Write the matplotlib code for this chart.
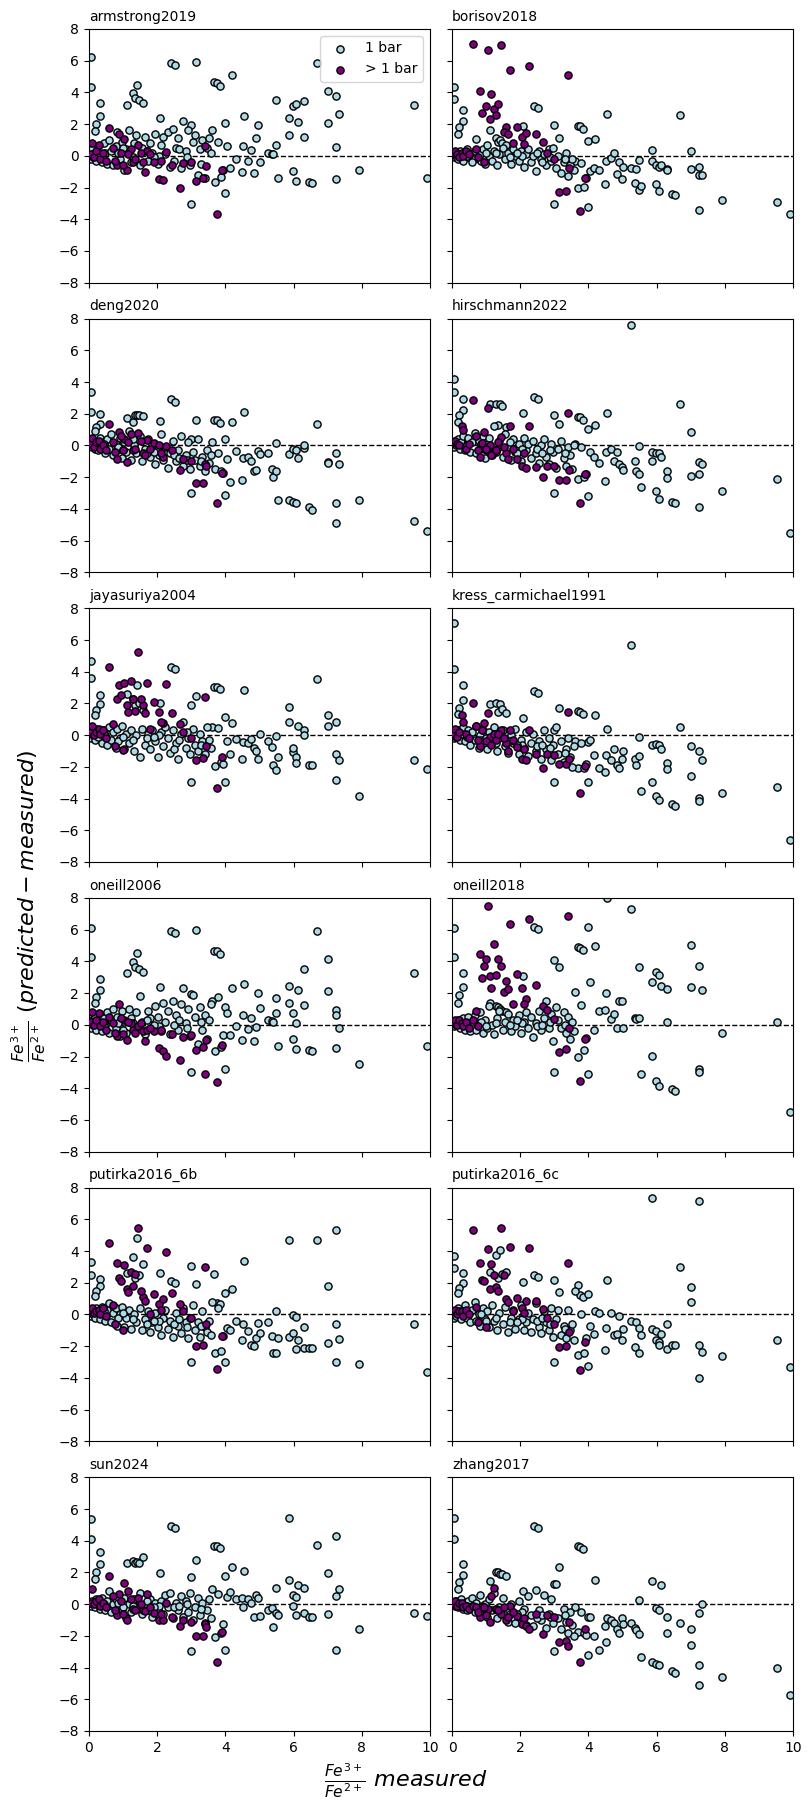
import matplotlib
matplotlib.use('Agg')
import matplotlib.pyplot as plt

models = ['armstrong2019', 'borisov2018', 'deng2020', 'hirschmann2022',
          'jayasuriya2004', 'kress_carmichael1991', 'oneill2006', 'oneill2018',
          'putirka2016_6b', 'putirka2016_6c', 'sun2024', 'zhang2017']

# measured Fe3+/Fe2+ of the 1 bar experiments (same samples for every model)
x_1bar = [0.06, 0.06, 0.32, 0.32, 0.2, 0.18,
          1.12, 1.30, 1.35, 1.42, 1.47, 1.59, 2.09, 2.40, 2.52, 2.99, 2.99, 3.15,
          3.68, 3.76, 3.84, 3.99, 3.99, 4.19, 4.55,
          3.62, 3.7, 3.78, 3.88, 3.93, 4.05, 4.15, 4.3, 4.49, 4.51, 4.66, 4.75, 4.85, 4.9, 4.97, 5.02,
          5.24, 5.37, 5.40, 5.49, 5.49, 5.55, 5.87, 5.87, 5.99, 5.99, 6.08, 6.08, 6.14, 6.31, 6.31,
          6.45, 6.53, 6.70, 7.02, 7.02, 7.25, 7.25, 7.25, 7.34, 7.93, 9.54, 9.92,
          0.03, 0.07, 0.1, 0.13, 0.17, 0.22, 0.26, 0.31, 0.37, 0.43,
          0.47, 0.54, 0.59, 0.66, 0.71, 0.78, 0.83, 0.9, 0.96, 1.03,
          1.08, 1.17, 1.24, 1.33, 1.39, 1.5, 1.56, 1.64, 1.73, 1.79,
          1.86, 1.95, 2.02, 2.11, 2.16, 2.24, 2.31, 2.37, 2.46, 2.55,
          2.61, 2.7, 2.76, 2.84, 2.9, 2.97, 3.04, 3.12, 3.2, 3.27,
          3.33, 3.39, 3.46, 3.53, 3.58,
          0.45, 0.86, 1.28, 1.69, 2.06, 2.48, 2.88, 3.3, 1.0, 1.9, 2.65]

# measured Fe3+/Fe2+ of the high pressure (> 1 bar) experiments
x_hp = [0.05, 0.1, 0.15, 0.2, 0.28, 0.33, 0.42, 0.5,
        0.6, 0.82, 0.88, 1.04, 1.12, 1.22, 1.3, 1.45, 1.58, 1.7, 1.9, 2.05, 2.18, 2.26,
        2.45, 2.68, 2.77, 2.99, 3.15, 3.35, 3.41, 3.43, 3.76, 3.91,
        0.7, 0.75, 0.95, 1.0, 1.15, 1.35, 1.52, 1.65, 1.8, 2.1]

# predicted - measured, 1 bar
armstrong2019_1bar = [6.25, 4.36, 3.33, 2.53, 2.0, 1.56,
    3.22, 3.94, 3.62, 4.46, 3.54, 3.33, 2.36, 5.85, 5.73, -3.05, 1.96, 5.94,
    4.63, 4.59, 4.42, 2.08, -2.34, 5.1, 2.5,
    1.62, -1.68, 0.88, -1.33, -0.88, 0.63, -0.78, -0.21, -1.0, 0.59, -0.34, 0.36, -1.07, 1.1, 1.96, -0.38,
    0.2, 0.13, 0.1, 3.54, 0.69, -1.4, 2.4, 1.3, 3.16, -0.95, 3.26, -1.6, 2.13, 3.45, 1.2,
    -1.67, -1.7, 5.87, 4.08, 2.06, 3.77, 0.55, -1.45, 2.63, -0.88, 3.22, -1.4,
    0.1, -0.2, 0.4, -0.1, 0.2, -0.3, 0.6, 0.0, -0.4, 0.8,
    0.2, -0.5, 1.0, 0.3, -0.6, 0.6, 1.5, -0.2, 0.9, -0.9,
    0.4, 1.6, -0.4, 0.8, 1.3, -0.6, 0.5, 1.2, -0.3, 0.8,
    0.2, 1.4, -0.5, 0.7, 1.2, 0.1, 1.5, -0.7, 1.7, 0.5,
    1.1, -0.8, 2.2, 0.3, 1.6, -0.6, 0.9, 1.3, -1.2, 0.4,
    1.0, -1.4, 0.5, 1.1, 0.2,
    -0.2, 0.2, -0.1, 0.3, 0.0, -0.3, -0.1, -0.5, 0.5, -0.1, 0.4]

borisov2018_1bar = [4.34, 3.58, 2.9, 2.19, 1.83, 1.37,
    1.6, 1.1, 0.9, 1.0, 0.8, 0.7, 1.85, 3.16, 3.03, -3.03, 1.96, 1.14,
    1.9, 1.85, 1.68, 0.95, -3.24, 1.05, 2.63,
    -0.3, -2.06, -0.48, -1.96, -1.37, -0.95, -0.74, -0.88, -1.77, -0.3, -0.15, 0.15, -1.16, -0.4, -1.47, -0.7,
    -0.8, -1.7, -0.84, -0.25, -2.15, -1.92, 0.36, -0.32, -1.77, -0.57, -0.7, -2.2, -0.59, -0.84, -0.9,
    -2.4, -2.48, 2.57, 0.29, -0.84, -0.7, -1.22, -3.4, -1.2, -2.8, -2.9, -3.7,
    0.1, -0.1, 0.2, 0.0, -0.2, 0.3, 0.0, -0.3, 0.2, 0.4,
    -0.1, 0.1, -0.4, 0.3, 1.05, -0.2, 0.1, 0.4, -0.5, 0.7,
    0.0, -0.3, 0.3, -0.6, 0.1, 0.5, -0.2, 0.2, -0.5, 0.4,
    0.0, -0.3, 0.3, -0.7, 0.1, 0.4, -0.4, 0.0, -0.97, 0.3,
    -0.2, 0.1, -0.6, 0.4, -0.3, 0.5, -0.8, 0.0, -1.1, -0.4,
    0.2, -1.3, -0.6, -0.2, -0.9,
    0.0, -0.3, 0.2, -0.1, 0.0, 0.2, -0.1, -0.2, 0.2, 0.2, -0.4]

deng2020_1bar = [3.35, 2.13, 1.96, 1.37, 1.14, 0.9,
    1.73, 1.47, 1.92, 1.94, 1.9, 1.85, 1.52, 2.93, 2.76, -2.97, 0.4, 1.62,
    1.62, 1.62, 1.43, 0.42, -3.12, 1.49, 2.1,
    0.25, -1.47, -0.48, -1.64, -1.73, -0.84, -2.3, -0.38, -2.15, -0.8, -0.74, -1.0, -1.64, -1.55, -0.38, -0.55,
    -0.46, -1.47, -2.0, 0.13, -1.64, -3.41, -0.53, -3.41, -0.21, -3.54, -0.27, -3.62, -0.78, -0.13, 0.05,
    -3.9, -4.04, 1.33, -1.07, -1.1, -0.5, -3.6, -4.9, -1.14, -3.41, -4.76, -5.4,
    0.0, 0.2, -0.1, 0.3, -0.2, 0.1, -0.3, 0.5, -0.1, 0.2,
    -0.5, 0.4, -0.2, 0.7, -0.6, 0.1, -0.3, 0.5, -0.8, 0.2,
    -0.4, 0.9, -0.9, 0.0, -0.5, 0.6, -1.0, -0.2, 0.4, -0.7,
    0.1, -1.2, -0.3, 0.7, -0.9, -0.1, -1.4, -0.5, 0.3, -1.0,
    -0.3, 0.6, -1.3, -0.6, 0.2, -1.5, -0.4, -0.9, 0.4, -1.3,
    -0.7, -1.6, -0.3, -1.1, -0.6,
    0.1, -0.1, 0.4, -0.5, -0.6, -0.6, -0.9, -1.0, -0.3, -0.4, -0.8]

hirschmann2022_1bar = [4.2, 3.39, 2.9, 2.25, 1.94, 1.47,
    2.6, 2.6, 1.3, 2.6, 2.48, 1.17, 2.06, 3.05, 2.93, -2.97, 1.9, 1.37,
    1.81, 1.77, 1.62, 1.05, -3.18, 1.26, 2.06,
    0.1, -2.1, -0.1, -2.0, -1.8, -0.42, -0.74, -1.1, -2.23, -0.42, -0.2, -0.99, -0.4, -1.16, -1.37, -1.54,
    7.6, -1.0, -1.64, -0.06, -1.83, -2.59, -0.42, -0.97, -0.46, -2.9, -0.46, -3.35, -0.7, -1.58, -2.08,
    -3.54, -3.6, 2.63, 0.82, -1.92, -1.05, -1.8, -3.9, -1.2, -2.86, -2.1, -5.5,
    0.1, -0.1, 0.3, 0.0, 0.4, -0.2, 0.2, 0.6, -0.3, 0.1,
    0.5, -0.4, 0.2, 0.8, -0.5, 0.3, -0.2, 0.6, -0.8, 0.1,
    0.5, -0.6, 1.2, -0.2, 0.3, -0.7, 0.7, -0.1, -0.9, 0.4,
    -0.4, 0.1, -1.0, 0.5, -0.3, 0.1, -0.8, 0.3, -0.5, -1.1,
    0.0, 0.4, -0.7, -1.2, 0.1, -0.4, -1.4, -0.2, 0.3, -0.8,
    -1.3, -0.1, -0.6, -1.5, 0.0,
    0.0, 0.1, -0.4, 0.2, -0.2, -0.2, -0.3, -0.5, -0.3, -0.5, -0.5]

jayasuriya2004_1bar = [4.67, 3.6, 2.53, 1.96, 1.56, 1.26,
    2.57, 2.3, 1.9, 3.16, 2.0, 1.6, 2.0, 4.3, 4.17, -2.97, 1.9, 2.48,
    3.05, 3.05, 2.88, 1.12, -2.97, 0.78, 2.84,
    0.5, -1.96, 0.48, -1.68, -1.85, -0.38, -1.18, -0.25, -1.5, -0.42, -0.5, -0.27, -0.84, -0.97, -1.52, 0.1,
    -0.4, -0.72, -1.9, -0.06, -2.2, -1.35, 1.77, 0.82, -1.05, -0.84, -1.35, -1.73, 0.57, 0.34, 0.0,
    -1.9, -1.9, 3.54, 1.24, 0.55, 0.8, -1.22, -2.8, -1.58, -3.85, -1.54, -2.15,
    0.1, -0.2, 0.3, 0.0, -0.3, 0.4, -0.1, 0.2, -0.5, 0.3,
    0.0, -0.6, 0.5, -0.3, 0.2, -0.8, 0.4, -0.2, 0.6, -0.9,
    0.1, -0.5, 0.3, -1.0, 0.0, -1.4, 0.4, -0.6, 0.1, -0.9,
    0.3, -0.4, -1.4, 0.2, -0.7, 0.5, -0.2, -1.1, 0.3, -0.5,
    -1.5, 0.1, 0.8, -0.8, -0.2, -1.2, 0.4, -0.6, -1.0, 0.1,
    -0.4, -1.2, 0.5, -0.3, -0.8,
    0.1, -0.4, -0.3, -0.2, 0.0, -0.9, 0.2, -0.6, -0.1, -0.1, -0.3]

kress_carmichael1991_1bar = [7.05, 4.17, 3.14, 2.23, 1.68, 1.35,
    1.96, 2.0, 1.47, 1.96, 1.62, 1.39, 1.07, 2.76, 2.63, -2.97, 0.3, 1.7,
    1.52, 1.47, 1.35, -0.42, -2.97, 1.26, 0.36,
    -0.4, -2.1, -0.48, -2.06, -1.85, -0.3, -1.26, -2.1, -2.3, -1.26, -1.58, -0.9, -1.9, -2.06, -1.52, -1.0,
    5.66, -1.52, -1.9, -0.13, -1.33, -3.54, -0.63, -2.97, -0.55, -3.85, -0.63, -4.1, -0.9, -1.73, -2.15,
    -4.36, -4.48, 0.5, -0.7, -2.6, -1.0, -3.94, -4.13, -1.58, -3.68, -3.3, -6.6,
    0.1, -0.2, 0.2, -0.1, 0.3, -0.3, 0.1, 0.5, -0.4, 0.0,
    0.3, -0.6, 0.2, -0.3, 0.6, -0.8, 0.0, 0.3, -0.5, -0.9,
    0.2, -0.4, 0.5, -1.0, -0.2, 0.3, -0.7, -1.1, 0.0, -0.5,
    0.4, -1.2, -0.3, -0.8, 0.2, -1.3, -0.5, 0.1, -1.0, -0.4,
    -1.5, 0.3, -0.9, -0.2, -1.6, -0.6, 0.5, -1.2, -0.4, -1.7,
    -0.9, -0.2, -1.4, -2.0, -0.7,
    -0.1, -0.3, -0.5, -0.4, -0.6, -0.7, -0.8, -1.1, -0.2, -0.6, -0.6]

oneill2006_1bar = [6.1, 4.27, 2.88, 2.19, 1.77, 1.37,
    3.26, 3.96, 3.64, 4.55, 3.54, 3.33, 2.38, 5.94, 5.79, -2.97, 1.96, 6.0,
    4.67, 4.63, 4.48, 1.14, -2.8, 2.32, 2.57,
    1.52, -1.64, 1.73, -1.37, -0.67, 0.74, -0.63, -0.1, -0.95, 0.59, -0.25, 0.42, -1.0, -0.13, 2.0, 1.05,
    0.3, 0.25, 0.17, 1.68, 0.74, -1.33, 2.46, 1.37, 0.74, -0.88, -1.52, 0.1, 2.19, 3.54, 1.24,
    -1.58, -1.64, 5.94, 4.15, 2.13, 0.94, 0.6, -1.45, -0.21, -2.48, 3.26, -1.33,
    0.1, -0.2, 0.3, 0.0, 0.5, -0.3, 0.2, 0.7, -0.4, 0.4,
    0.0, 0.8, -0.5, 0.3, 1.0, -0.2, 0.5, -0.7, 0.9, 0.2,
    -0.5, 1.0, 0.4, -0.3, 0.8, 1.8, 0.2, -0.6, 0.9, 0.4,
    -0.2, 1.2, 0.5, -0.4, 1.4, 0.2, 0.9, -0.6, 1.5, 0.6,
    -0.3, 1.3, 2.3, 0.1, 1.0, -0.7, 1.9, 0.5, -1.2, 1.1,
    -0.3, 0.6, -0.9, 0.3, 1.3,
    -0.1, 0.1, 0.1, 0.3, -0.1, 0.0, -0.2, 0.2, -0.3, 0.0, 0.3]

oneill2018_1bar = [6.1, 4.27, 3.26, 2.4, 1.85, 1.37,
    1.4, 1.2, 1.1, 1.0, 0.9, 0.8, 3.1, 6.19, 6.06, -2.97, 4.1, 3.66,
    4.9, 4.84, 4.74, 6.19, -3.12, 4.99, 7.98,
    2.1, -2.0, 1.22, -1.58, -0.84, 2.69, -0.3, 0.88, 0.95, 2.0, 0.38, 0.67, -0.2, 1.47, 1.5, -0.2,
    7.33, 0.44, 0.38, 3.66, 0.44, -3.12, 2.69, -1.98, 3.3, -3.54, 3.16, -3.85, 2.46, 2.25, 0.17,
    -4.08, -4.17, 9.0, 5.03, 2.38, 3.7, -2.8, -2.97, 2.19, -0.53, 0.17, -5.5,
    0.1, -0.1, 0.2, 0.0, 0.3, -0.2, 0.1, 0.4, -0.3, 0.1,
    0.5, -0.4, 0.2, 0.6, -0.3, 0.1, 0.8, -0.5, 0.3, -0.2,
    1.2, 0.0, -0.6, 0.4, 0.9, -0.3, 0.2, 0.7, -0.4, 0.3,
    -0.1, 0.6, -0.5, 0.2, 0.8, -0.2, 0.5, -0.8, 0.1, 0.9,
    -0.3, 0.4, 1.5, -0.2, 0.7, -1.0, 1.1, 0.3, -0.2, 0.8,
    -0.5, 0.5, -0.9, 0.2, -0.4,
    0.0, 0.2, 0.1, 0.0, 0.1, -0.1, 0.2, 0.0, -0.1, 0.3, 0.0]

putirka2016_6b_1bar = [3.33, 2.5, 2.25, 1.77, 1.47, 1.16,
    2.63, 3.62, 2.3, 4.8, 2.5, 3.2, 2.59, 2.1, 1.96, -2.97, 3.05, 1.94,
    2.57, 0.74, 0.63, 1.37, -2.97, 1.62, 3.39,
    0.8, -2.42, 0.42, -2.3, -1.37, -0.88, -0.95, -0.42, -1.64, -0.59, -1.05, -1.9, -2.0, -1.47, -0.55, -1.2,
    -0.5, -1.33, -2.42, 0.19, -2.4, -1.47, 4.67, -1.41, -0.05, -1.2, -0.13, -2.15, -1.64, -0.78, -2.1,
    -2.1, -2.1, 4.67, 1.81, -1.77, 5.35, -0.63, -2.97, -1.52, -3.12, -0.59, -3.6,
    0.1, -0.1, 0.3, 0.0, -0.2, 0.4, 0.1, -0.3, 0.5, 0.0,
    -0.4, 0.3, 0.7, -0.5, 0.1, 0.4, -0.7, 0.0, 0.5, -0.8,
    -0.2, 0.3, -0.9, 0.0, -0.5, 0.4, -1.0, -0.3, 0.2, -1.1,
    -0.5, 0.1, -0.8, -1.3, -0.2, 0.3, -0.9, -0.4, -1.4, 0.1,
    -0.7, -1.2, 0.4, -0.5, -1.5, -0.2, 0.6, -1.0, -0.5, -1.4,
    0.2, -0.8, -1.1, -0.4, -1.3,
    0.2, -0.2, -0.3, -0.6, -0.4, -0.6, -0.8, -0.7, 0.1, -0.4, -0.3]

putirka2016_6c_1bar = [3.66, 2.95, 2.59, 2.0, 1.66, 1.33,
    2.69, 3.73, 2.3, 4.04, 2.55, 2.69, 2.06, 2.48, 2.34, -2.97, 2.19, 1.43,
    1.85, 1.2, 1.1, 1.26, -3.26, 0.23, 2.19,
    1.47, -2.53, 0.0, -2.45, -1.47, -0.7, -1.26, 0.1, -2.27, -0.88, 0.1, -1.3, -1.26, -0.1, -1.64, -0.93,
    -0.4, -2.08, -0.5, -0.84, -2.46, -1.28, 7.33, -0.93, -1.05, -1.58, -1.73, -1.92, -1.22, -0.59, -2.2,
    -1.95, -1.9, 2.97, 1.75, 0.76, 7.14, -1.95, -4.0, -2.34, -2.65, -1.64, -3.3,
    0.1, -0.2, 0.2, -0.1, 0.4, 0.0, -0.3, 0.3, 0.6, -0.2,
    0.1, -0.5, 0.3, 0.8, -0.4, 0.0, -0.7, 0.4, -0.3, 0.2,
    -0.8, 0.6, -0.4, -1.0, 0.1, -0.6, 0.5, -1.1, -0.2, 0.3,
    -0.9, -0.3, 0.6, -1.0, -0.5, 0.1, -1.1, -0.3, 0.7, -0.8,
    -1.2, 0.2, -0.5, -1.0, 0.4, -1.4, -0.3, 0.3, -1.3, -0.7,
    -1.5, 0.3, -1.0, -0.6, -1.6,
    0.1, 0.0, -0.2, -0.5, -0.3, -0.4, -0.6, -0.9, -0.4, -0.5, -0.2]

sun2024_1bar = [5.37, 4.08, 3.26, 2.53, 2.0, 1.56,
    2.6, 2.7, 2.6, 2.66, 2.6, 2.97, 1.96, 4.93, 4.78, -2.97, 1.7, 2.76,
    3.66, 3.66, 3.54, 1.77, -2.9, 2.32, 2.06,
    0.95, -2.1, 0.67, -1.85, -1.26, 0.42, 0.74, 0.3, 0.36, -0.2, 0.3, 0.05, -0.84, 0.59, 0.36, -0.74,
    -0.4, -0.23, -1.47, 1.01, -0.59, -0.7, 5.43, 1.52, 0.57, -0.1, 0.44, -0.7, 1.2, 1.03, -0.59,
    -0.84, -0.84, 3.7, 1.96, -0.63, 4.27, 0.5, -2.9, 0.95, -1.58, -0.53, -0.78,
    0.1, -0.1, 0.2, 0.0, -0.2, 0.3, 0.0, -0.3, 0.4, 0.1,
    -0.4, 0.2, 0.8, -0.5, 0.0, 0.3, -0.6, 0.1, -0.3, 0.4,
    -0.9, 0.0, -0.5, 0.3, -0.2, 0.7, -0.6, 0.0, -0.4, 0.3,
    -0.8, 0.1, -0.3, 0.2, -0.6, 0.6, -0.2, 0.7, -0.9, 0.1,
    -0.4, 0.5, -0.8, 0.2, -0.5, 0.7, -1.0, -0.2, 0.4, -0.7,
    0.1, -1.2, -0.4, 0.3, -0.9,
    0.0, 0.1, -0.1, 0.2, -0.1, -0.2, 0.0, -0.3, -0.2, -0.2, -0.1]

zhang2017_1bar = [5.41, 4.08, 2.53, 1.81, 1.37, 0.97,
    1.47, 2.0, 2.0, 1.9, 1.9, 1.77, 0.8, 4.95, 4.8, -2.97, 1.3, 2.32,
    3.66, 3.62, 3.47, -0.8, -3.18, 1.52, -0.88,
    -0.2, -1.75, -0.48, -1.8, -1.92, -0.8, -2.0, -2.9, -1.37, -2.4, -0.97, -1.16, -1.58, -1.8, -0.88, -1.26,
    -1.2, -1.52, -1.64, 0.25, -1.9, -3.35, 1.43, -3.64, -0.23, -3.79, -0.34, -3.85, 1.22, -0.84, -1.83,
    -4.23, -4.32, -1.2, -1.54, -2.55, -0.59, -3.81, -5.07, 0.0, -4.57, -4.04, -5.75,
    0.0, 0.1, -0.1, 0.2, -0.2, 0.0, 0.3, -0.3, 0.1, -0.4,
    0.2, -0.2, 0.4, -0.5, 0.1, -0.3, 0.6, -0.6, 0.0, -0.8,
    0.3, -0.4, 0.7, -0.9, -0.2, 0.4, -0.7, -1.1, 0.0, -0.5,
    -1.2, 0.2, -0.8, -0.3, -1.3, 0.5, -0.7, -1.4, 0.9, -0.4,
    -1.0, 0.6, -1.5, -0.6, 0.3, -1.2, 1.3, -0.9, -1.6, -0.3,
    -1.1, -1.8, -0.5, -1.3, -2.0,
    -0.1, -0.2, -0.3, -0.6, -0.5, -0.9, -0.8, -0.7, -0.4, -0.6, -0.7]

# predicted - measured, > 1 bar
armstrong2019_hp = [0.1, 0.8, -0.1, 0.3, 0.7, -0.2, 0.2, -0.3,
    1.77, -0.59, 1.37, 1.05, -0.88, 0.4, -0.4, 0.69, -0.4, 0.3, -0.4, -1.45, -1.5, 0.23,
    -0.55, -2.04, -0.46, -0.4, -1.56, -1.41, 0.63, -0.63, -3.68, -0.88,
    0.5, -0.3, 0.2, -0.6, 0.1, -0.2, 0.2, -1.0, 0.1, -0.3]
borisov2018_hp = [0.2, 0.3, 0.1, -0.1, 0.2, 0.0, 0.3, 0.1,
    7.05, 4.1, 2.67, 6.7, 2.3, 2.95, 2.6, 7.0, 1.79, 5.41, 1.83, 1.2, 1.45, 5.66,
    1.37, 0.9, 0.2, -0.2, -2.27, -2.2, 5.1, -0.74, -3.5, -1.41,
    0.4, -0.1, -0.42, 3.14, 3.9, 3.26, 1.5, 1.37, 0.8, 0.75]
deng2020_hp = [0.1, 0.5, -0.1, 0.2, 0.3, -0.2, 0.0, -0.3,
    1.33, -0.84, 0.85, 0.4, -1.05, 0.7, -0.3, 0.8, -0.5, 0.35, 0.15, 0.0, -0.74, -0.05,
    -0.3, -1.52, -0.88, -1.0, -2.34, -2.34, -1.14, -1.3, -3.62, -1.73,
    0.2, -0.4, 0.6, -0.3, 0.2, -0.2, 0.3, -0.6, -0.2, -0.45]
hirschmann2022_hp = [0.2, 0.3, 0.1, 0.0, 1.2, 0.95, -0.2, 0.1,
    2.84, -0.7, 0.15, 2.38, 0.0, -0.4, -0.3, 0.53, -0.5, 1.2, -0.88, -1.3, -1.45, 1.2,
    -1.37, -1.96, -1.3, -1.3, -2.2, -2.15, 2.02, -1.52, -3.62, -1.77,
    0.6, -0.3, 0.84, -0.2, -0.6, 0.2, -0.1, -0.88, -0.2, -0.5]
jayasuriya2004_hp = [0.2, 0.6, 0.0, 0.2, 0.4, 0.1, 0.3, -0.2,
    4.3, 2.3, 3.16, 3.28, 1.9, 3.4, 2.3, 5.24, 1.9, 3.26, 2.1, 1.47, 0.75, 3.22,
    1.37, 0.7, 0.2, -0.2, -1.58, -1.47, 2.4, -0.7, -3.35, -1.37,
    0.7, -0.7, 2.5, -0.95, 1.43, 1.5, 2.3, 1.37, 0.4, 0.8]
kress_carmichael1991_hp = [0.1, 0.4, -0.1, 0.2, 1.26, 0.84, 0.1, -0.2,
    2.02, -0.7, 0.3, 1.37, -0.1, 0.1, -0.3, 0.32, -0.5, 0.32, -0.74, -1.52, -1.58, 0.32,
    -1.16, -2.08, -1.16, -1.26, -1.83, -1.83, 1.49, -1.52, -3.62, -1.92,
    0.6, -0.3, 0.74, -0.4, -0.6, 0.1, -0.2, -1.0, -0.3, -0.9]
oneill2006_hp = [0.2, 0.8, 0.0, 0.3, 0.75, -0.1, 0.2, -0.3,
    0.5, -0.7, 1.33, 0.3, -0.95, 0.1, -0.3, -0.1, -0.4, -0.3, -0.4, -1.45, -1.68, -1.98,
    -0.55, -2.2, -0.8, -0.67, -1.58, -1.41, -3.12, -0.97, -3.62, -1.26,
    0.1, -0.5, 0.4, -0.6, 0.2, -0.5, 0.1, -1.0, -0.2, -0.3]
oneill2018_hp = [0.2, 0.3, 0.0, 0.3, 0.1, -0.1, 0.2, -0.2,
    0.3, 4.46, 2.95, 7.5, 3.05, 5.1, 3.16, 3.7, 2.74, 6.36, 3.2, 2.32, 1.62, 6.69,
    2.53, 1.2, 0.95, 0.35, -1.73, -1.52, 6.86, -0.2, -3.54, -0.88,
    0.9, -0.1, 3.68, 4.15, 2.3, 4.17, 2.06, 2.24, 1.3, 1.3]
putirka2016_6b_hp = [0.3, 0.4, 0.1, 0.2, 0.3, 0.0, 0.4, -0.1,
    4.53, 3.26, 2.3, 3.1, 1.62, 2.69, 1.8, 5.47, 1.1, 4.17, 1.26, 0.63, 0.99, 3.96,
    1.37, 0.67, 0.25, -0.2, -2.02, -1.92, 2.97, -0.63, -3.41, -1.33,
    0.6, -0.63, 2.1, -0.95, 1.43, 2.53, 1.5, 0.84, 0.0, 0.3]
putirka2016_6c_hp = [0.2, 0.3, 0.0, 0.2, 0.2, -0.1, 0.3, 0.0,
    5.3, 3.26, 2.18, 4.1, 1.62, 2.48, 1.75, 5.47, 1.0, 4.27, 1.05, 0.42, 0.84, 4.17,
    0.84, 0.32, -0.2, -0.6, -2.08, -2.02, 3.22, -1.1, -3.5, -1.73,
    0.5, -0.48, 2.1, -0.8, 3.16, 1.5, 2.48, 0.78, 0.2, 0.1]
sun2024_hp = [0.1, 0.95, 0.0, 0.2, 0.3, -0.1, 0.1, -0.2,
    1.77, -0.7, 0.67, 1.33, -1.0, 0.3, -0.3, 0.38, -0.4, 0.63, -0.53, -0.97, -0.97, 0.1,
    -0.84, -1.41, -1.0, -1.1, -2.04, -1.98, -1.26, -1.45, -3.62, -1.73,
    0.5, -0.4, 0.2, -0.6, 0.84, -0.4, 0.0, -0.42, -0.2, -0.6]
zhang2017_hp = [0.0, 0.2, -0.1, 0.1, 0.1, -0.2, -0.1, -0.3,
    -0.1, -0.84, -0.1, -0.3, -1.1, 0.99, -0.3, -0.6, -0.97, -0.1, -0.74, -1.24, -1.35, -1.58,
    -0.6, -1.9, -0.7, -0.84, -2.4, -2.34, -2.67, -1.14, -3.68, -1.58,
    -0.2, -0.5, -0.2, -0.7, 0.53, -0.4, -0.2, -0.8, -0.5, -0.9]

y_1bar = {
    'armstrong2019': armstrong2019_1bar, 'borisov2018': borisov2018_1bar,
    'deng2020': deng2020_1bar, 'hirschmann2022': hirschmann2022_1bar,
    'jayasuriya2004': jayasuriya2004_1bar, 'kress_carmichael1991': kress_carmichael1991_1bar,
    'oneill2006': oneill2006_1bar, 'oneill2018': oneill2018_1bar,
    'putirka2016_6b': putirka2016_6b_1bar, 'putirka2016_6c': putirka2016_6c_1bar,
    'sun2024': sun2024_1bar, 'zhang2017': zhang2017_1bar}
y_hp = {
    'armstrong2019': armstrong2019_hp, 'borisov2018': borisov2018_hp,
    'deng2020': deng2020_hp, 'hirschmann2022': hirschmann2022_hp,
    'jayasuriya2004': jayasuriya2004_hp, 'kress_carmichael1991': kress_carmichael1991_hp,
    'oneill2006': oneill2006_hp, 'oneill2018': oneill2018_hp,
    'putirka2016_6b': putirka2016_6b_hp, 'putirka2016_6c': putirka2016_6c_hp,
    'sun2024': sun2024_hp, 'zhang2017': zhang2017_hp}

fig, axes = plt.subplots(6, 2, figsize=(8.11, 18.11), dpi=100, sharex=True, sharey=True)
fig.subplots_adjust(left=0.1097, right=0.9778, top=0.984, bottom=0.0442,
                    wspace=0.065, hspace=0.142)

for ax, name in zip(axes.flat, models):
    xb, yb = x_1bar, y_1bar[name]
    if len(xb) != len(yb):
        print('length mismatch', name, len(xb), len(yb))
        n = min(len(xb), len(yb))
        xb, yb = xb[:n], yb[:n]
    xh, yh = x_hp, y_hp[name]
    if len(xh) != len(yh):
        print('length mismatch hp', name, len(xh), len(yh))
        n = min(len(xh), len(yh))
        xh, yh = xh[:n], yh[:n]

    ax.axhline(0, color='black', linestyle='--', linewidth=1, zorder=1)
    ax.scatter(xb, yb, s=27, c='lightblue', edgecolors='black', linewidths=1,
               label='1 bar', zorder=2)
    ax.scatter(xh, yh, s=27, c='purple', edgecolors='black', linewidths=1,
               label='> 1 bar', zorder=3)
    ax.set_title(name, loc='left', fontsize=10)
    ax.set_xlim(0, 10)
    ax.set_ylim(-8, 8)
    ax.set_xticks([0, 2, 4, 6, 8, 10])
    ax.set_yticks([-8, -6, -4, -2, 0, 2, 4, 6, 8])

axes[0, 0].legend(loc='upper right')

fig.supxlabel(r'$\frac{Fe^{3+}}{Fe^{2+}}$ $measured$', fontsize=16, y=0.006)
fig.supylabel(r'$\frac{Fe^{3+}}{Fe^{2+}}$ $(predicted - measured)$', fontsize=16, x=0.012)

fig.savefig('out.png', dpi=100)
print("Chart saved!")
